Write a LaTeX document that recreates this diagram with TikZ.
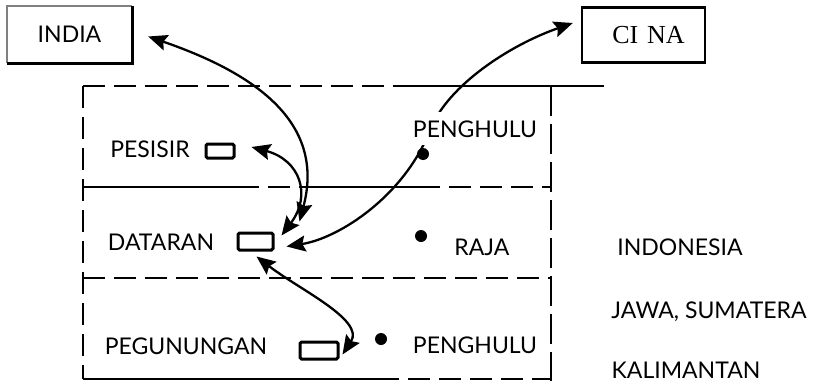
\documentclass[tikz,border=0pt]{standalone}
\usepackage{fontspec}
\setmainfont{Lato}
\newfontfamily\cinafont{Liberation Serif}
\usetikzlibrary{arrows.meta,calc}
\begin{document}
\begin{tikzpicture}[x=1pt,y=-1pt,
  txt/.style={inner sep=0pt, anchor=base, font=\fontsize{23}{27}\selectfont},
  bigbox/.style={line width=2.4pt, minimum width=123pt, minimum height=55pt, inner sep=0pt, font=\fontsize{23}{27}\selectfont},
  smallbox/.style={draw, line width=3pt, rounded corners=1.5pt, inner sep=0pt},
  dotn/.style={circle, fill, inner sep=0pt, minimum size=12pt},
  frameline/.style={line width=2.5pt},
  dashline/.style={line width=2.5pt, dash pattern=on 22pt off 9pt},
  arr/.style={line width=2.3pt, {Stealth[length=19pt,width=16pt,inset=3pt]}-{Stealth[length=19pt,width=16pt,inset=3pt]}}
]
\useasboundingbox (0,0) rectangle (813,383);
\fill[white] (0,0) rectangle (813,383);

% top boxes
\node[bigbox] (india) at (69.5,34.5) {INDIA};
\draw[gray, line width=2.2pt] (india.south west) -- (india.north west) -- (india.north east);
\draw[line width=2.6pt] (india.north east) -- (india.south east) -- (india.south west);
\node[bigbox, draw, font=\cinafont\fontsize{26}{29}\selectfont] (cina) at (643.5,35) {\hspace*{10pt}CI\,\,NA};

% frame
\draw[dashline] (83,86) -- (83,379);
\draw[dashline] (83,86) -- (401,86);
\draw[frameline] (401,86) -- (604,86);
\draw[dash pattern=on 30pt off 8pt, line width=2.5pt] (551,86) -- (551,381);
\draw[frameline] (83,187) -- (237,187);
\draw[dashline] (237,187) -- (310,187);
\draw[frameline] (310,187) -- (418,187);
\draw[dashline] (418,187) -- (551,187);
\draw[dashline] (83,278) -- (551,278);
\draw[frameline] (83,379) -- (377,379);
\draw[dashline] (377,379) -- (551,379);

% small boxes
\node[smallbox, minimum width=28pt, minimum height=14pt] (pbox) at (220,151) {};
\node[smallbox, minimum width=35pt, minimum height=17pt] (dbox) at (255.5,241.5) {};
\node[smallbox, minimum width=38pt, minimum height=17pt] (gbox) at (319,350.5) {};

% connectors
\draw[arr] ($(dbox.north east)+(25,-10)$) .. controls (325,125) and (260,75) .. ($(india.east)+(16,2)$);
\draw[arr] ($(dbox.north east)+(7,4)$) .. controls (312,195) and (300,160) .. ($(pbox.east)+(16,-4)$);
\draw[arr] ($(dbox.east)+(12,5)$) .. controls (340,238) and (405,195) .. (430,130)
   .. controls (448,85) and (510,45) .. ($(cina.west)+(-8,-12)$);
\draw[arr] ($(dbox.south west)+(20,5)$) .. controls (300,290) and (365,320) .. ($(gbox.east)+(3,4)$);

% labels
\node[txt] (pesisir) at (150,157) {PESISIR};
\node[txt] (dataran) at (161,250) {DATARAN};
\node[txt] (pegunungan) at (186,354) {PEGUNUNGAN};
\node[txt, fill=white, inner xsep=2pt, inner ysep=8pt] (penghulu1) at (475,137) {PENGHULU};
\node[txt] (raja) at (482,255) {RAJA};
\node[txt] (penghulu2) at (475,353) {PENGHULU};
\node[txt] (indonesia) at (680,255) {INDONESIA};
\node[txt] (jawa) at (709,318) {JAWA, SUMATERA};
\node[txt] (kalimantan) at (686,378) {KALIMANTAN};

% dots
\node[dotn] (dot1) at (423,154) {};
\node[dotn] (dot2) at (421,236) {};
\node[dotn] (dot3) at (381,339) {};
\end{tikzpicture}
\end{document}
